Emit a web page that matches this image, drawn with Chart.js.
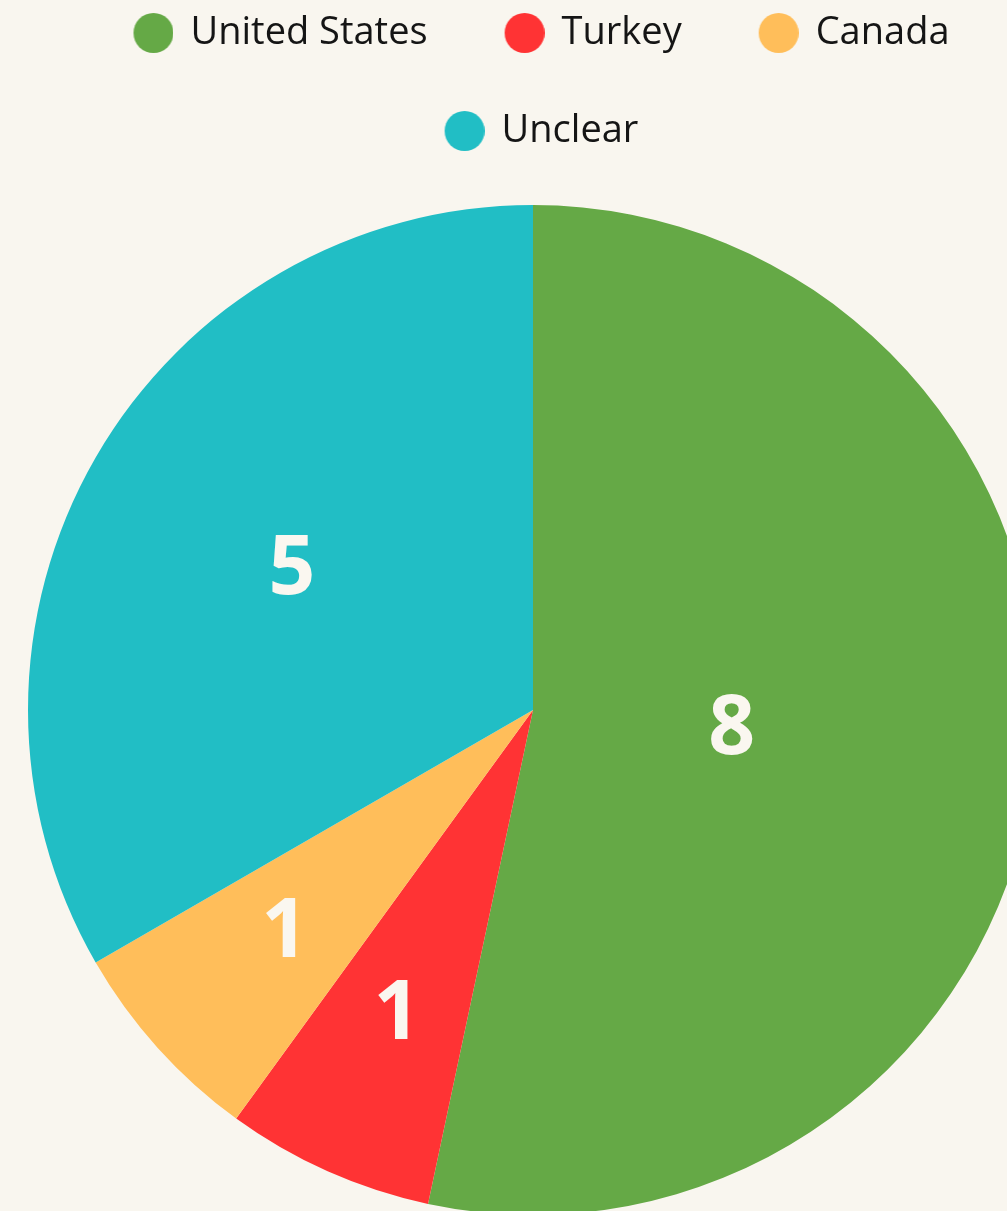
<!DOCTYPE html>
<html>
<head>
<meta charset="utf-8">
<script src="https://cdn.jsdelivr.net/npm/chart.js@4.4.0/dist/chart.umd.min.js"></script>
<style>
  html, body {
    margin: 0;
    padding: 0;
    background: #F9F6EF;
    overflow: hidden;
    width: 1007px;
    height: 1211px;
  }
  .chart-wrap {
    position: absolute;
    left: 28px;
    top: -46px;
    width: 1010px;
    height: 1306px;
  }
</style>
</head>
<body>
<div class="chart-wrap">
  <canvas id="countryPie"></canvas>
</div>
<script>
const countries = ["United States", "Turkey", "Canada", "Unclear"];
const counts = [8, 1, 1, 5];
const sliceColors = ["#65A946", "#FF3334", "#FFBE5A", "#21BEC5"];

// legend marker: a 40px dot drawn a bit off-centre in a wider image,
// so the dot sits close to its text while items keep a wide gap
function legendDot(color) {
  const c = document.createElement("canvas");
  c.width = 59;
  c.height = 40;
  const g = c.getContext("2d");
  g.fillStyle = color;
  g.beginPath();
  g.arc(39, 20, 20, 0, Math.PI * 2);
  g.fill();
  return c;
}

// value labels, placed at the centroid of each slice
const sliceLabels = {
  id: "sliceLabels",
  afterDatasetsDraw(chart) {
    const ctx = chart.ctx;
    const meta = chart.getDatasetMeta(0);
    ctx.save();
    ctx.font = 'bold 82px "Open Sans"';
    ctx.fillStyle = "#FAF7F0";
    ctx.textAlign = "center";
    ctx.textBaseline = "middle";
    meta.data.forEach((arc, i) => {
      const { x, y, startAngle, endAngle, outerRadius } = arc.getProps(
        ["x", "y", "startAngle", "endAngle", "outerRadius"],
        true
      );
      const half = (endAngle - startAngle) / 2;
      const mid = startAngle + half;
      const r = (2 * outerRadius * Math.sin(half)) / (3 * half);
      ctx.fillText(String(counts[i]), x + Math.cos(mid) * r, y + Math.sin(mid) * r);
    });
    ctx.restore();
  },
};

const ctx = document.getElementById("countryPie");
const countryPie = new Chart(ctx, {
  type: "pie",
  data: {
    labels: countries,
    datasets: [
      {
        data: counts,
        backgroundColor: sliceColors,
        borderWidth: 0,
      },
    ],
  },
  options: {
    responsive: true,
    maintainAspectRatio: false,
    animation: false,
    layout: { padding: 0 },
    plugins: {
      tooltip: { enabled: false },
      legend: {
        position: "top",
        labels: {
          color: "#151515",
          font: { family: '"Open Sans"', size: 38 },
          usePointStyle: true,
          pointStyleWidth: 55,
          padding: 60,
          generateLabels(chart) {
            return Chart.overrides.pie.plugins.legend.labels
              .generateLabels(chart)
              .map((item, i) => ({ ...item, pointStyle: legendDot(sliceColors[i]), lineWidth: 0 }));
          },
        },
      },
    },
  },
  plugins: [sliceLabels],
});
</script>
</body>
</html>
